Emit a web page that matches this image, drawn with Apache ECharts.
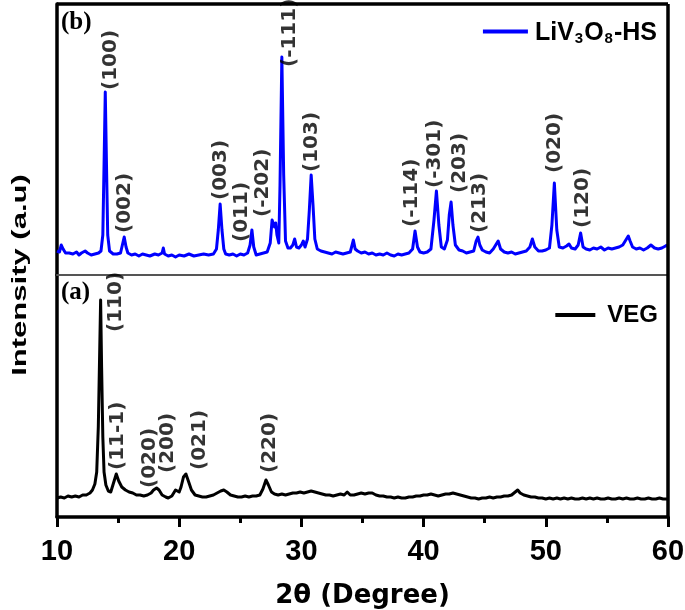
<!DOCTYPE html>
<html>
<head>
<meta charset="utf-8">
<script src="https://cdn.jsdelivr.net/npm/echarts@6/dist/echarts.min.js"></script>
<style>html,body{margin:0;padding:0;background:#fff;}#main{width:685px;height:610px;}</style>
</head>
<body>
<div id="main"></div>
<script>
// X ticks (2θ, degree)
var xTicks = [10, 20, 30, 40, 50, 60];

// (b) LiV3O8-HS pattern: [2θ, intensity a.u.]
var livData = [
[10.0,24],[10.2,23],[10.35,30],[10.5,26],[10.7,22],[11.0,22],[11.3,21],[11.6,23],[11.8,20],[12.0,22],[12.3,24],[12.5,22],[12.8,20],[13.1,21],[13.4,22],[13.6,24],[13.75,40],[13.85,110],[13.95,183],[14.05,110],[14.15,40],[14.3,24],[14.6,21],[14.9,21],[15.2,22],[15.35,30],[15.5,38],[15.65,28],[15.8,22],[16.1,20],[16.4,21],[16.7,19],[17.0,21],[17.3,20],[17.6,19],[18.0,21],[18.3,20],[18.6,22],[18.7,27],[18.8,21],[19.1,19],[19.4,20],[19.7,18],[20.0,20],[20.4,19],[20.8,21],[21.2,19],[21.6,20],[22.0,21],[22.4,20],[22.8,21],[23.05,26],[23.2,45],[23.35,71],[23.5,45],[23.65,26],[23.8,21],[24.1,20],[24.4,21],[24.7,19],[25.0,21],[25.3,20],[25.6,22],[25.8,30],[25.95,45],[26.1,28],[26.3,20],[26.6,21],[26.9,22],[27.2,23],[27.45,32],[27.6,55],[27.7,57],[27.8,48],[27.9,52],[28.0,40],[28.15,32],[28.25,90],[28.4,218],[28.55,100],[28.7,34],[28.9,27],[29.1,27],[29.3,30],[29.45,36],[29.6,28],[29.8,27],[30.0,30],[30.15,34],[30.3,28],[30.5,36],[30.65,65],[30.8,100],[30.95,70],[31.1,36],[31.3,26],[31.6,24],[31.9,23],[32.2,22],[32.5,21],[32.8,23],[33.1,22],[33.4,21],[33.7,22],[34.0,23],[34.15,30],[34.25,35],[34.4,26],[34.6,24],[34.9,22],[35.2,23],[35.5,21],[35.8,22],[36.1,20],[36.4,21],[36.7,20],[37.0,22],[37.3,20],[37.6,19],[37.9,21],[38.2,20],[38.5,21],[38.8,22],[39.1,26],[39.3,44],[39.5,28],[39.7,23],[40.0,22],[40.3,23],[40.6,26],[40.85,55],[41.05,84],[41.25,50],[41.45,28],[41.7,26],[41.95,35],[42.1,60],[42.25,73],[42.4,50],[42.6,30],[42.9,25],[43.2,24],[43.5,22],[43.8,23],[44.1,24],[44.3,34],[44.45,38],[44.6,30],[44.8,25],[45.1,23],[45.4,22],[45.7,26],[45.9,30],[46.1,34],[46.3,26],[46.6,23],[46.9,22],[47.2,23],[47.5,21],[47.8,22],[48.1,23],[48.4,24],[48.7,28],[48.9,36],[49.1,28],[49.4,24],[49.7,24],[50.0,25],[50.3,27],[50.5,50],[50.7,92],[50.9,45],[51.1,28],[51.4,27],[51.7,29],[51.9,31],[52.1,27],[52.4,26],[52.65,30],[52.85,42],[53.05,28],[53.3,26],[53.6,25],[53.9,27],[54.2,26],[54.5,28],[54.8,25],[55.1,27],[55.4,26],[55.7,27],[56.0,28],[56.3,30],[56.5,34],[56.75,39],[56.9,34],[57.1,28],[57.4,26],[57.7,27],[58.0,25],[58.3,27],[58.6,30],[58.75,32],[58.9,27],[59.2,26],[59.5,27],[59.8,29],[60.0,30]
];

// (a) VEG pattern: [2θ, intensity a.u.]
var vegData = [
[10.0,19],[10.3,20],[10.6,19],[10.9,21],[11.2,20],[11.5,21],[11.8,20],[12.1,22],[12.4,22],[12.7,24],[12.9,27],[13.1,33],[13.25,45],[13.38,90],[13.5,170],[13.57,217],[13.65,150],[13.75,80],[13.85,45],[14.0,32],[14.2,26],[14.4,25],[14.6,33],[14.85,43],[15.05,36],[15.3,30],[15.6,27],[15.9,25],[16.2,24],[16.5,22],[16.8,22],[17.1,21],[17.4,22],[17.7,24],[17.9,27],[18.15,29],[18.35,27],[18.6,22],[18.9,20],[19.1,19],[19.4,21],[19.7,27],[19.85,28],[20.0,25],[20.15,30],[20.35,40],[20.55,43],[20.75,36],[21.0,27],[21.3,22],[21.6,21],[21.9,20],[22.2,20],[22.5,21],[22.8,22],[23.1,24],[23.4,26],[23.65,27],[23.9,25],[24.2,22],[24.5,21],[24.8,20],[25.1,20],[25.4,21],[25.7,20],[26.0,21],[26.3,21],[26.6,22],[26.85,28],[27.1,37],[27.3,32],[27.55,25],[27.8,23],[28.1,22],[28.4,23],[28.7,22],[29.0,23],[29.3,24],[29.6,24],[29.9,25],[30.2,24],[30.5,25],[30.8,26],[31.1,25],[31.4,24],[31.7,23],[32.0,22],[32.3,22],[32.6,21],[32.9,22],[33.2,23],[33.5,22],[33.75,25],[34.0,22],[34.3,22],[34.6,23],[34.9,24],[35.2,23],[35.5,24],[35.8,24],[36.1,22],[36.4,21],[36.7,21],[37.0,20],[37.3,20],[37.6,19],[37.9,20],[38.2,19],[38.5,19],[38.8,20],[39.1,20],[39.4,21],[39.7,21],[40.0,22],[40.3,22],[40.6,23],[40.9,22],[41.2,21],[41.5,22],[41.8,23],[42.1,23],[42.4,24],[42.7,23],[43.0,22],[43.3,21],[43.6,20],[43.9,19],[44.2,19],[44.5,18],[44.8,19],[45.1,19],[45.4,20],[45.7,19],[46.0,20],[46.3,20],[46.6,21],[46.9,21],[47.2,22],[47.5,25],[47.7,27],[47.9,24],[48.2,22],[48.5,21],[48.8,20],[49.1,20],[49.4,19],[49.7,19],[50.0,18],[50.3,19],[50.6,18],[50.9,19],[51.2,18],[51.5,19],[51.8,18],[52.1,19],[52.4,18],[52.7,18],[53.0,19],[53.3,18],[53.6,19],[53.9,18],[54.2,19],[54.5,18],[54.8,18],[55.1,19],[55.4,18],[55.7,18],[56.0,19],[56.3,18],[56.6,19],[56.9,18],[57.2,18],[57.5,19],[57.8,18],[58.1,18],[58.4,19],[58.7,18],[59.0,18],[59.3,19],[59.6,18],[60.0,18]
];

// Peak index labels (text, 2θ position, intensity at label start)
var livLabels = ['(100)','(002)','(003)','(011)','(-202)','(-111)','(103)','(-114)','(-301)','(203)','(213)','(020)','(120)'];
var livLabelX = [14.39, 15.56, 23.42, 25.1, 26.83, 29.07, 30.84, 39.03, 40.93, 42.98, 44.62, 50.75, 53.02];
var livLabelY = [185, 42, 75, 33, 58, 208, 103, 48, 87, 82, 42, 102, 47];

var vegLabels = ['(110)','(11-1)','(020)','(200)','(021)','(220)'];
var vegLabelX = [14.83, 15.0, 17.6, 19.1, 21.7, 27.43];
var vegLabelY = [185, 47, 29, 44, 47, 44];

// Axis ranges
var xMin = 10, xMax = 60, topMax = 271, botMax = 242;

function labelData(names, xs, ys) {
  return names.map(function (n, i) { return { name: n, value: [xs[i], ys[i]] }; });
}

var sansB = '"Liberation Sans", Arial, sans-serif';
var peakLabel = {
  show: true, position: 'inside', rotate: 90, align: 'left', verticalAlign: 'middle',
  formatter: function (p) { return p.name; },
  fontFamily: '"DejaVu Sans", sans-serif', fontWeight: 'bold', fontSize: 20, color: '#000'
};
var noAxisParts = { axisTick: { show: false }, axisLabel: { show: false }, splitLine: { show: false } };
function ax(extra) { return Object.assign({ type: 'value' }, noAxisParts, extra); }
var gridBase = { left: 57, right: 17, containLabel: false, outerBoundsMode: 'none' };
var frameStyle = { color: '#000', width: 3.5, type: 'solid' };
function frameLines(items) {
  return { silent: true, symbol: ['none', 'none'], animation: false, label: { show: false },
    lineStyle: frameStyle, emphasis: { disabled: true, lineStyle: frameStyle }, data: items };
}

var chart = echarts.init(document.getElementById('main'), null, { renderer: 'canvas' });
var option = {
  animation: false,
  backgroundColor: '#fff',
  grid: [
    Object.assign({ top: 4, height: 271 }, gridBase),
    Object.assign({ top: 275, height: 242 }, gridBase)
  ],
  xAxis: [
    ax({ gridIndex: 0, min: xMin, max: xMax, interval: 10,
      axisLine: { show: true, onZero: false, lineStyle: { color: '#555', width: 2 } } }),
    ax({ gridIndex: 1, min: xMin, max: xMax, interval: 10,
      axisLine: { show: true, onZero: false, lineStyle: { color: '#000', width: 3.5 } },
      axisTick: { show: true, inside: false, length: 10, lineStyle: { color: '#000', width: 3 } },
      minorTick: { show: true, splitNumber: 2, length: 6, lineStyle: { color: '#000', width: 3 } },
      axisLabel: { show: true, margin: 20, color: '#000', fontFamily: sansB, fontWeight: 'bold', fontSize: 29,
        formatter: function (v) { return xTicks.indexOf(v) >= 0 ? String(v) : ''; } },
      name: '2θ (Degree)', nameLocation: 'middle', nameGap: 66,
      nameTextStyle: { color: '#000', fontFamily: '"DejaVu Sans", sans-serif', fontWeight: 'bold', fontSize: 26, verticalAlign: 'top' } })
  ],
  yAxis: [
    ax({ gridIndex: 0, min: 0, max: topMax, axisLine: { show: true, onZero: false, lineStyle: frameStyle } }),
    ax({ gridIndex: 1, min: 0, max: botMax, axisLine: { show: true, onZero: false, lineStyle: frameStyle } })
  ],
  legend: [
    { data: ['LiV3O8-HS'], right: 28, top: 21, padding: 0, icon: 'rect', itemWidth: 45, itemHeight: 4,
      formatter: function () { return '{a|LiV}{b|3}{a|O}{b|8}{a|-HS}'; },
      textStyle: { padding: [0, 0, 0, 2], rich: {
        a: { fontFamily: sansB, fontWeight: 'bold', fontSize: 25, color: '#000', lineHeight: 29, verticalAlign: 'bottom' },
        b: { fontFamily: sansB, fontWeight: 'bold', fontSize: 15, color: '#000', lineHeight: 19, verticalAlign: 'bottom', padding: [0, 1, 0, 1] } } } },
    { data: ['VEG'], right: 27, top: 303, padding: 0, icon: 'rect', itemWidth: 40, itemHeight: 4,
      textStyle: { padding: [0, 0, 0, 7], fontFamily: sansB, fontWeight: 'bold', fontSize: 24, color: '#000' } }
  ],
  graphic: [
    { type: 'text', x: 61, y: 10, style: { text: '(b)', font: 'bold 25px "Liberation Serif", "Times New Roman", serif', fill: '#000' } },
    { type: 'text', x: 61, y: 280, style: { text: '(a)', font: 'bold 25px "Liberation Serif", "Times New Roman", serif', fill: '#000' } },
    { type: 'text', x: 20, y: 275, rotation: Math.PI / 2, scaleX: 1.55,
      style: { text: 'Intensity (a.u)', font: 'bold 20px "Liberation Sans", Arial, sans-serif', fill: '#000', align: 'center', verticalAlign: 'middle' } }
  ],
  series: [
    { name: 'LiV3O8-HS', type: 'line', xAxisIndex: 0, yAxisIndex: 0, data: livData, showSymbol: false, symbol: 'none',
      lineStyle: { color: '#0000ff', width: 3, join: 'round' }, itemStyle: { color: '#0000ff' }, z: 3, clip: false,
      markLine: frameLines([{ yAxis: topMax }, { xAxis: xMax }]) },
    { name: 'VEG', type: 'line', xAxisIndex: 1, yAxisIndex: 1, data: vegData, showSymbol: false, symbol: 'none',
      lineStyle: { color: '#000', width: 3, join: 'round' }, itemStyle: { color: '#000' }, z: 3, clip: false,
      markLine: frameLines([{ xAxis: xMax }]) },
    { name: 'livLabels', type: 'scatter', xAxisIndex: 0, yAxisIndex: 0, symbolSize: 1, itemStyle: { color: 'rgba(0,0,0,0)' },
      data: labelData(livLabels, livLabelX, livLabelY), label: peakLabel, silent: true, z: 4 },
    { name: 'vegLabels', type: 'scatter', xAxisIndex: 1, yAxisIndex: 1, symbolSize: 1, itemStyle: { color: 'rgba(0,0,0,0)' },
      data: labelData(vegLabels, vegLabelX, vegLabelY), label: peakLabel, silent: true, z: 4 }
  ]
};
chart.setOption(option);
</script>
</body>
</html>
